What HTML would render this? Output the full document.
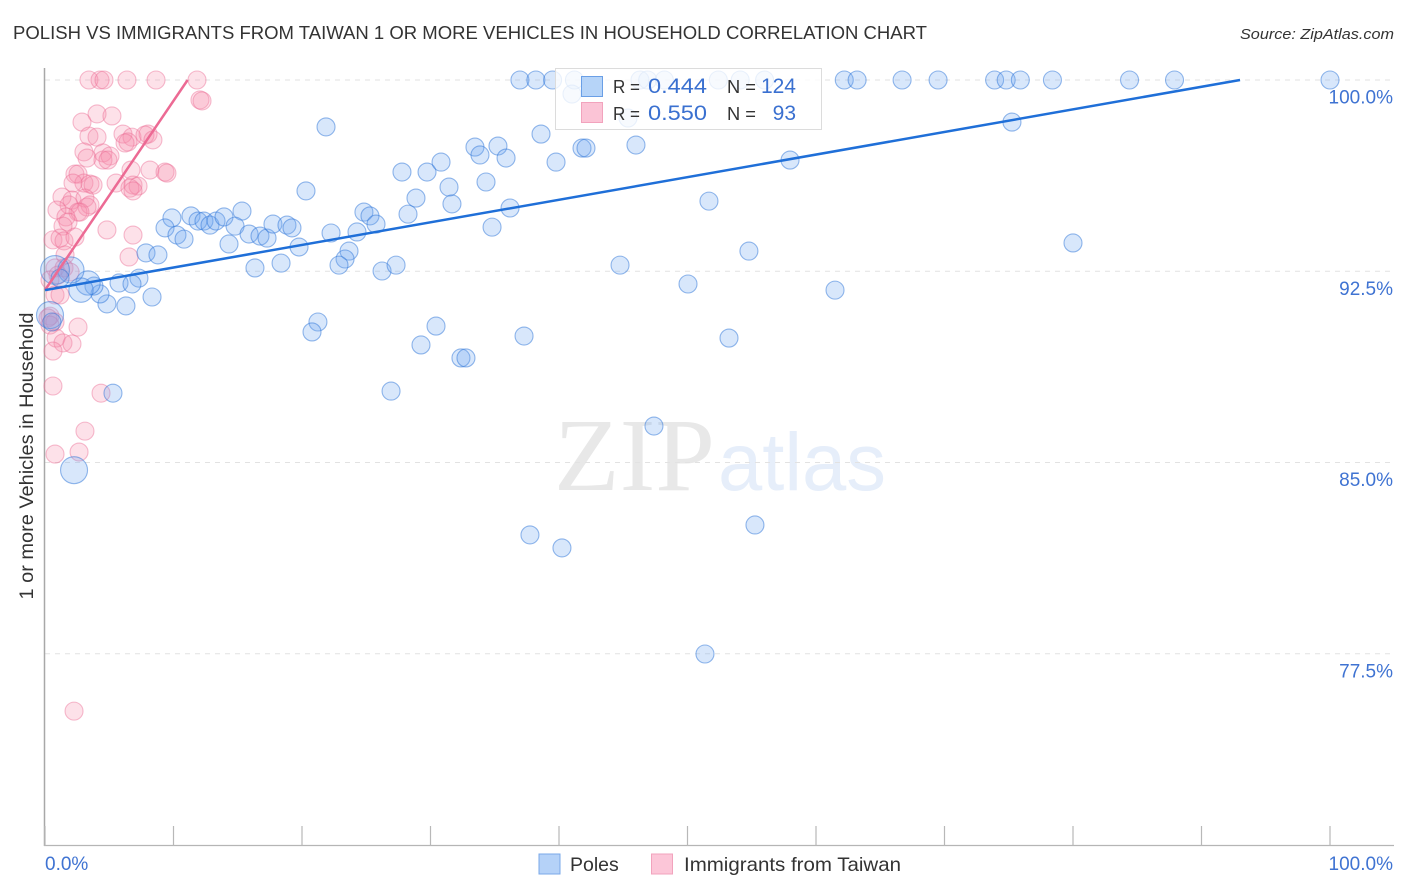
<!DOCTYPE html>
<html lang="en">
<head>
<meta charset="utf-8">
<title>Polish vs Immigrants from Taiwan correlation chart</title>
<style>
html,body{margin:0;padding:0;background:#fff;}
svg{display:block;font-family:"Liberation Sans",sans-serif;}
</style>
</head>
<body>
<svg id="chart" width="1406" height="892" viewBox="0 0 1406 892">
  <text x="13" y="39" font-size="18.5" fill="#333" textLength="914" lengthAdjust="spacingAndGlyphs">POLISH VS IMMIGRANTS FROM TAIWAN 1 OR MORE VEHICLES IN HOUSEHOLD CORRELATION CHART</text>
  <text x="1394" y="39" font-size="15" font-style="italic" fill="#333" text-anchor="end" textLength="154" lengthAdjust="spacingAndGlyphs">Source: ZipAtlas.com</text>
  <g id="watermark">
    <text x="554" y="490" font-family="'Liberation Serif',serif" font-size="104" fill="#e8e8e8" textLength="161" lengthAdjust="spacingAndGlyphs">ZIP</text>
    <text x="718" y="490" font-size="82" fill="#e6eefa" textLength="168" lengthAdjust="spacingAndGlyphs">atlas</text>
  </g>
  <g id="grid"></g>
  <g id="axes"></g>
  <g id="pointsTaiwan"></g>
  <g id="pointsPoles"></g>
  <g id="trends"></g>
  <g id="statsLegend">
    <rect x="555.5" y="68.5" width="266" height="61" fill="#fff" fill-opacity="0.8" stroke="#dcdcdc" stroke-width="1"/>
    <rect x="581.5" y="76.5" width="21" height="20" fill="#a9ccf7" fill-opacity="0.85" stroke="#6a9fe6"/>
    <rect x="581.5" y="102.5" width="21" height="20" fill="#fbc4d6" stroke="#f2a3bd"/>
    <text x="613" y="93" font-size="18.5" fill="#333" textLength="27" lengthAdjust="spacingAndGlyphs">R =</text>
    <text x="648" y="93" font-size="21" fill="#3a70d0" textLength="59" lengthAdjust="spacingAndGlyphs">0.444</text>
    <text x="727" y="93" font-size="18.5" fill="#333" textLength="29" lengthAdjust="spacingAndGlyphs">N =</text>
    <text x="796" y="93" font-size="21" fill="#3a70d0" text-anchor="end">124</text>
    <text x="613" y="120" font-size="18.5" fill="#333" textLength="27" lengthAdjust="spacingAndGlyphs">R =</text>
    <text x="648" y="120" font-size="21" fill="#3a70d0" textLength="59" lengthAdjust="spacingAndGlyphs">0.550</text>
    <text x="727" y="120" font-size="18.5" fill="#333" textLength="29" lengthAdjust="spacingAndGlyphs">N =</text>
    <text x="796" y="120" font-size="21" fill="#3a70d0" text-anchor="end">93</text>
  </g>
  <text transform="translate(33,456) rotate(-90)" font-size="19.5" fill="#333" text-anchor="middle" textLength="287" lengthAdjust="spacingAndGlyphs">1 or more Vehicles in Household</text>
  <g id="bottomLegend">
    <rect x="539" y="854" width="21" height="20" fill="#b5d2f8" stroke="#7aa8e8"/>
    <text x="570" y="871" font-size="19.5" fill="#333">Poles</text>
    <rect x="651.5" y="854" width="21" height="20" fill="#fcc6d8" stroke="#f2a3bd"/>
    <text x="684" y="871" font-size="19.5" fill="#333" textLength="217" lengthAdjust="spacingAndGlyphs">Immigrants from Taiwan</text>
  </g>
</svg>
<script>
const xTickValues = [0,10,20,30,40,50,60,70,80,90,100];
const yTickValues = [100,92.5,85,77.5];
const yTickLabels = ["100.0%","92.5%","85.0%","77.5%"];
const xEndLabels = ["0.0%","100.0%"];

const polesX = [36.96,38.2,39.5,41.2,46.3,46.9,48.2,52.4,54.1,56.0,62.2,63.2,66.7,69.5,73.9,74.8,75.9,78.4,84.4,87.9,100,
21.87,38.6,41.01,45.37,75.25,57.98,33.46,33.85,35.25,35.88,39.77,41.79,42.1,45.99,27.78,29.73,30.82,31.44,34.32,20.31,51.67,28.87,31.67,36.19,28.25,15.33,9.88,11.36,11.91,12.37,12.84,13.31,13.93,9.34,10.27,10.82,14.79,15.88,16.73,17.28,17.74,18.83,19.22,22.26,24.28,24.82,25.29,25.76,34.79,14.32,19.77,23.66,23.35,22.88,16.34,18.37,26.23,27.32,7.86,8.79,44.75,54.78,80.0,61.48,50.04,5.76,7.31,6.77,8.33,4.82,6.3,4.28,3.81,3.35,2.8,2.02,0.78,1.17,21.24,20.78,30.43,37.28,29.26,32.37,32.76,53.23,26.93,5.29,47.39,2.26,55.25,37.74,40.23,51.36,0.39,0.54];
const polesY = [100,100,100,100,100,100,100,100,100,100,100,100,100,100,100,100,100,100,100,100,100,
98.16,97.88,99.45,98.51,98.35,96.86,97.37,97.06,97.41,96.94,96.78,97.33,97.33,97.45,96.39,96.39,96.78,95.8,96.0,95.65,95.25,95.37,95.14,94.98,94.74,94.86,94.59,94.67,94.47,94.47,94.31,94.47,94.63,94.2,93.92,93.76,94.27,93.96,93.88,93.8,94.35,94.31,94.2,94.0,94.04,94.82,94.67,94.35,94.23,93.57,93.45,93.29,92.98,92.74,92.63,92.82,92.51,92.74,93.22,93.14,92.74,93.29,93.61,91.76,92.0,92.04,92.23,92.0,91.49,91.22,91.14,91.61,91.92,92.04,91.76,92.55,92.55,92.23,90.51,90.12,90.35,89.96,89.61,89.1,89.1,89.88,87.8,87.72,86.43,84.7,82.55,82.16,81.65,77.49,90.78,90.51];
const polesLargeX = [3.35,2.8,2.02,0.78,2.26,0.39];
const polesLargeWeight = [1.35,1.35,1.45,1.6,1.5,1.5];

const taiwanX = [3.42,4.28,4.59,6.38,8.64,11.83,12.06,12.22,4.05,5.21,2.88,3.42,4.05,6.07,6.77,6.46,6.23,8.02,7.78,8.4,3.03,3.27,4.51,5.06,4.51,4.9,6.69,8.17,9.34,9.49,5.53,6.85,7.24,6.61,6.85,2.33,2.57,3.03,3.5,3.74,2.18,1.32,2.1,3.11,3.5,3.27,1.87,0.93,2.57,2.72,1.63,1.79,1.4,0.62,1.17,1.48,2.33,4.82,6.85,6.54,1.56,0.78,1.48,1.95,1.01,0.39,0.78,1.17,0.39,0.23,0.78,2.57,0.39,0.86,1.4,2.1,0.62,0.62,4.36,3.11,0.78,2.65,2.26];
const taiwanY = [100,100,100,100,100,100,99.22,99.18,98.67,98.59,98.35,97.8,97.76,97.88,97.76,97.57,97.53,97.88,97.84,97.65,97.18,96.94,97.14,97.02,96.86,96.86,96.47,96.47,96.39,96.35,95.96,95.88,95.84,95.76,95.65,96.31,96.31,95.96,95.92,95.88,95.96,95.41,95.29,95.37,95.1,95.02,95.1,94.9,94.82,94.82,94.63,94.43,94.27,93.73,93.8,93.69,93.84,94.12,93.92,93.06,93.14,92.63,92.63,92.47,92.35,92.16,91.57,91.57,90.74,90.67,90.51,90.31,90.39,89.88,89.69,89.65,89.37,88.0,87.72,86.23,85.33,85.41,75.25];

const polesTrendX = [0,93];
const polesTrendY = [91.76,100];
const taiwanTrendX = [0,11.1];
const taiwanTrendY = [91.76,100];

const NS = "http://www.w3.org/2000/svg";
function xScale(v){ return 45 + v * 12.85; }
function yScale(v){ return 80 + (100 - v) * 25.5; }
function make(tag, attrs, parent){
  const el = document.createElementNS(NS, tag);
  for (const k in attrs) el.setAttribute(k, attrs[k]);
  parent.appendChild(el);
  return el;
}

const grid = document.getElementById("grid");
yTickValues.forEach(function(v){
  const line = make("line", {x1:45, x2:1394, y1:yScale(v), y2:yScale(v), stroke:"#e2e2e2", "stroke-width":1, "stroke-dasharray":"5 5"}, grid);
  
  
});

const axes = document.getElementById("axes");
const yAxisLine = make("line", {x1:44.5, x2:44.5, y1:68, y2:846, stroke:"#a8a8a8", "stroke-width":1.5}, axes);


const xAxisLine = make("line", {x1:44, x2:1394, y1:845.5, y2:845.5, stroke:"#b5b5b5", "stroke-width":1.2}, axes);


xTickValues.forEach(function(v){
  const tick = make("line", {x1:xScale(v), x2:xScale(v), y1:826, y2:846, stroke:"#b8b8b8", "stroke-width":1.2}, axes);
  
  
});
yTickValues.forEach(function(v, i){
  const label = make("text", {x:1393, y:yScale(v) + 23.5, "font-size":19, fill:"#3f73d2", "text-anchor":"end"}, axes);
  label.textContent = yTickLabels[i];
  
  
});
const xLabelStart = make("text", {x:45, y:870, "font-size":19, fill:"#3f73d2"}, axes);
xLabelStart.textContent = xEndLabels[0];


const xLabelEnd = make("text", {x:1393, y:870, "font-size":19, fill:"#3f73d2", "text-anchor":"end"}, axes);
xLabelEnd.textContent = xEndLabels[1];



const pinkGroup = document.getElementById("pointsTaiwan");
taiwanX.forEach(function(v, i){
  const dot = make("circle", {cx:xScale(v), cy:yScale(taiwanY[i]), r:9, fill:"#f98bab", "fill-opacity":0.26, stroke:"#ec6c94", "stroke-opacity":0.45, "stroke-width":1.1}, pinkGroup);
  
  
});

const blueGroup = document.getElementById("pointsPoles");
polesX.forEach(function(v, i){
  const idx = polesLargeX.indexOf(v);
  const weight = idx >= 0 ? polesLargeWeight[idx] : 1;
  const dot = make("circle", {cx:xScale(v), cy:yScale(polesY[i]), r:9 * weight, fill:"#6ea6f0", "fill-opacity":0.27, stroke:"#2c74d8", "stroke-opacity":0.5, "stroke-width":1.1}, blueGroup);
  
  
});

const trends = document.getElementById("trends");
const taiwanTrend = make("line", {x1:xScale(taiwanTrendX[0]), y1:yScale(taiwanTrendY[0]), x2:xScale(taiwanTrendX[1]), y2:yScale(taiwanTrendY[1]), stroke:"#ec6a94", "stroke-width":2.5}, trends);


const polesTrend = make("line", {x1:xScale(polesTrendX[0]), y1:yScale(polesTrendY[0]), x2:xScale(polesTrendX[1]), y2:yScale(polesTrendY[1]), stroke:"#1f6fd8", "stroke-width":2.5}, trends);


</script>
</body>
</html>
